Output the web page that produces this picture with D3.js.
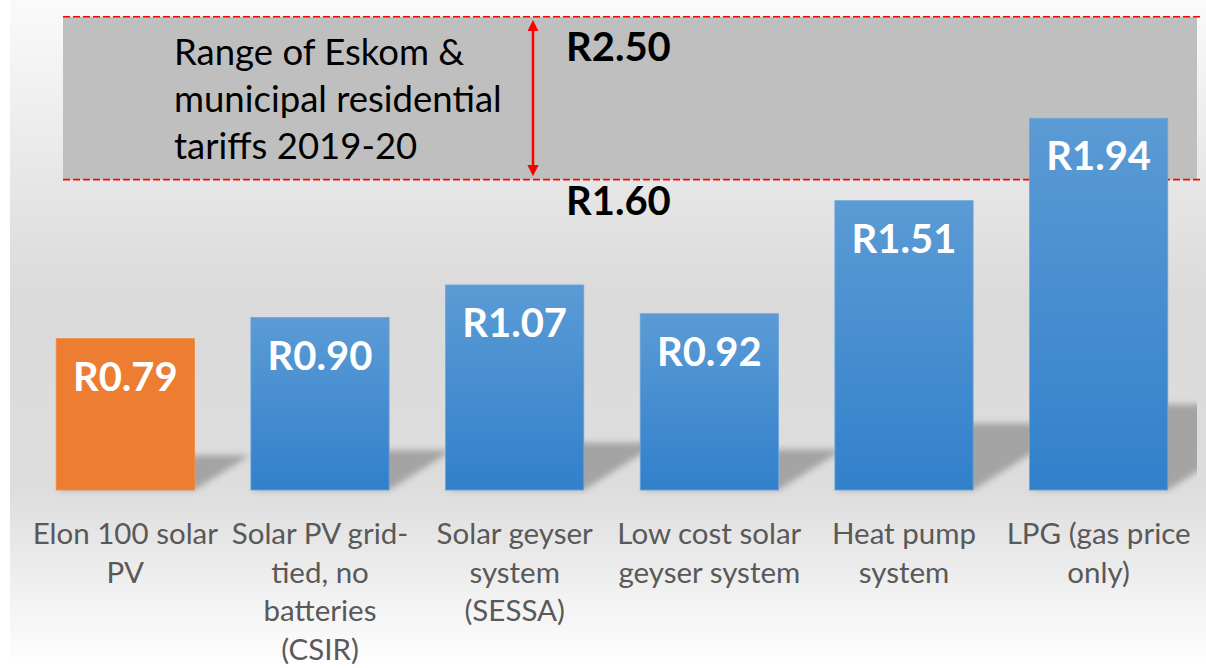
<!DOCTYPE html>
<html>
<head>
<meta charset="utf-8">
<script src="https://cdn.jsdelivr.net/npm/d3@7"></script>
<style>
  html, body { margin: 0; padding: 0; background: #fff; }
  svg { display: block; font-family: Lato, "Open Sans", sans-serif; }
</style>
</head>
<body>
<div id="chart"></div>
<script>
// categories (line breaks as in the picture)
const categories = [
  "Elon 100 solar\nPV",
  "Solar PV grid-\ntied, no\nbatteries\n(CSIR)",
  "Solar geyser\nsystem\n(SESSA)",
  "Low cost solar\ngeyser system",
  "Heat pump\nsystem",
  "LPG (gas price\nonly)",
];
const costs = [0.79, 0.90, 1.07, 0.92, 1.51, 1.94];
const highlighted = [true, false, false, false, false, false];

// tariff range annotation
const tariffLabels = ["R2.50", "R1.60"];
const bandValues = [2.47, 1.62]; // where the grey band is drawn
const rangeText = ["Range of Eskom &", "municipal residential", "tariffs 2019-20"];

const width = 1206;
const height = 668;

const svg = d3.select("#chart").append("svg")
  .attr("width", width)
  .attr("height", height);

const defs = svg.append("defs");

const bg = defs.append("linearGradient")
  .attr("id", "bg").attr("x1", 0).attr("y1", 0).attr("x2", 0).attr("y2", 1);
bg.append("stop").attr("offset", "0%").attr("stop-color", "#fafafa");
bg.append("stop").attr("offset", "45%").attr("stop-color", "#dadada");
bg.append("stop").attr("offset", "73%").attr("stop-color", "#dddddd");
bg.append("stop").attr("offset", "100%").attr("stop-color", "#ffffff");

const blue = defs.append("linearGradient")
  .attr("id", "blue").attr("x1", 0).attr("y1", 0).attr("x2", 0).attr("y2", 1);
blue.append("stop").attr("offset", "0%").attr("stop-color", "#5b9bd5");
blue.append("stop").attr("offset", "100%").attr("stop-color", "#3280cb");

defs.append("filter")
  .attr("id", "blur")
  .attr("x", "-20%").attr("y", "-20%").attr("width", "140%").attr("height", "140%")
  .append("feGaussianBlur").attr("stdDeviation", 3);

defs.append("clipPath").attr("id", "plotclip")
  .append("rect").attr("x", 0).attr("y", 0).attr("width", 1197).attr("height", height);

defs.append("marker")
  .attr("id", "arrow")
  .attr("viewBox", "0 0 10 10")
  .attr("refX", 5).attr("refY", 5)
  .attr("markerWidth", 4.5).attr("markerHeight", 4.5)
  .attr("orient", "auto-start-reverse")
  .append("path")
  .attr("d", "M0,0 L10,5 L0,10 z")
  .attr("fill", "#ff0000");

svg.append("rect")
  .attr("x", 10).attr("y", 0)
  .attr("width", width - 10).attr("height", height)
  .attr("fill", "url(#bg)");

const x = d3.scaleBand()
  .domain(categories)
  .range([28, 1196])
  .paddingInner(0.29)
  .paddingOuter(0.145);

const y = d3.scaleLinear()
  .domain([0, 2.5])
  .range([490, 11]);

// grey tariff band
const bandLeft = 63;
const bandRight = 1197;
svg.append("rect")
  .attr("x", bandLeft)
  .attr("y", y(bandValues[0]))
  .attr("width", bandRight - bandLeft)
  .attr("height", y(bandValues[1]) - y(bandValues[0]))
  .attr("fill", "#bfbfbf");

svg.selectAll(".dash")
  .data(bandValues)
  .join("line")
  .attr("class", "dash")
  .attr("x1", bandLeft).attr("x2", 1200)
  .attr("y1", (d) => y(d)).attr("y2", (d) => y(d))
  .attr("stroke", "#ff0000")
  .attr("stroke-width", 1.6)
  .attr("stroke-dasharray", "7,3");

svg.append("text")
  .attr("x", 174)
  .attr("y", 65)
  .attr("font-size", 36.5)
  .attr("fill", "#000")
  .selectAll("tspan")
  .data(rangeText)
  .join("tspan")
  .attr("x", 174)
  .attr("dy", (d, i) => (i === 0 ? 0 : 47))
  .text((d) => d);

svg.append("line")
  .attr("x1", 533).attr("x2", 533)
  .attr("y1", y(bandValues[0]) + 9)
  .attr("y2", y(bandValues[1]) - 9)
  .attr("stroke", "#ff0000")
  .attr("stroke-width", 2.5)
  .attr("marker-start", "url(#arrow)")
  .attr("marker-end", "url(#arrow)");

svg.selectAll(".tariff")
  .data(tariffLabels)
  .join("text")
  .attr("class", "tariff")
  .attr("x", 566)
  .attr("y", (d, i) => (i === 0 ? y(bandValues[0]) + 44 : y(bandValues[1]) + 35))
  .attr("font-size", 40)
  .attr("font-weight", "bold")
  .attr("fill", "#000")
  .text((d) => d);

// perspective shadows
const base = y(0);
svg.append("g")
  .attr("clip-path", "url(#plotclip)")
  .append("g")
  .attr("filter", "url(#blur)")
  .selectAll("path")
  .data(costs)
  .join("path")
  .attr("d", (d, i) => {
    const x0 = x(categories[i]);
    const x1 = x0 + x.bandwidth();
    const dy = 0.23 * (base - y(d));
    const dx = 1.6 * dy;
    return `M${x0},${base} L${x1},${base} L${x1 + dx},${base - dy} L${x0 + dx},${base - dy} Z`;
  })
  .attr("fill", "#000")
  .attr("fill-opacity", 0.26);

// bars
svg.append("g")
  .selectAll("rect")
  .data(costs)
  .join("rect")
  .attr("x", (d, i) => x(categories[i]))
  .attr("y", (d) => y(d))
  .attr("width", x.bandwidth())
  .attr("height", (d) => y(0) - y(d))
  .attr("fill", (d, i) => (highlighted[i] ? "#ed7d31" : "url(#blue)"))
  .attr("stroke", (d, i) => (highlighted[i] ? "#f08a45" : "#69a5dc"))
  .attr("stroke-width", 0.8);

const fmt = d3.format(".2f");
svg.append("g")
  .selectAll("text")
  .data(costs)
  .join("text")
  .attr("x", (d, i) => x(categories[i]) + x.bandwidth() / 2)
  .attr("y", (d) => y(d) + 52)
  .attr("text-anchor", "middle")
  .attr("font-size", 40)
  .attr("font-weight", "bold")
  .attr("fill", "#fff")
  .text((d) => "R" + fmt(d));

// category labels
const labels = svg.append("g")
  .selectAll("text")
  .data(categories)
  .join("text")
  .attr("text-anchor", "middle")
  .attr("font-size", 29.5)
  .attr("fill", "#595959")
  .attr("y", 544);

labels.selectAll("tspan")
  .data((d) => d.split("\n").map((line) => ({ line, cat: d })))
  .join("tspan")
  .attr("x", (d) => x(d.cat) + x.bandwidth() / 2)
  .attr("dy", (d, i) => (i === 0 ? 0 : 38.5))
  .text((d) => d.line);
</script>
</body>
</html>
